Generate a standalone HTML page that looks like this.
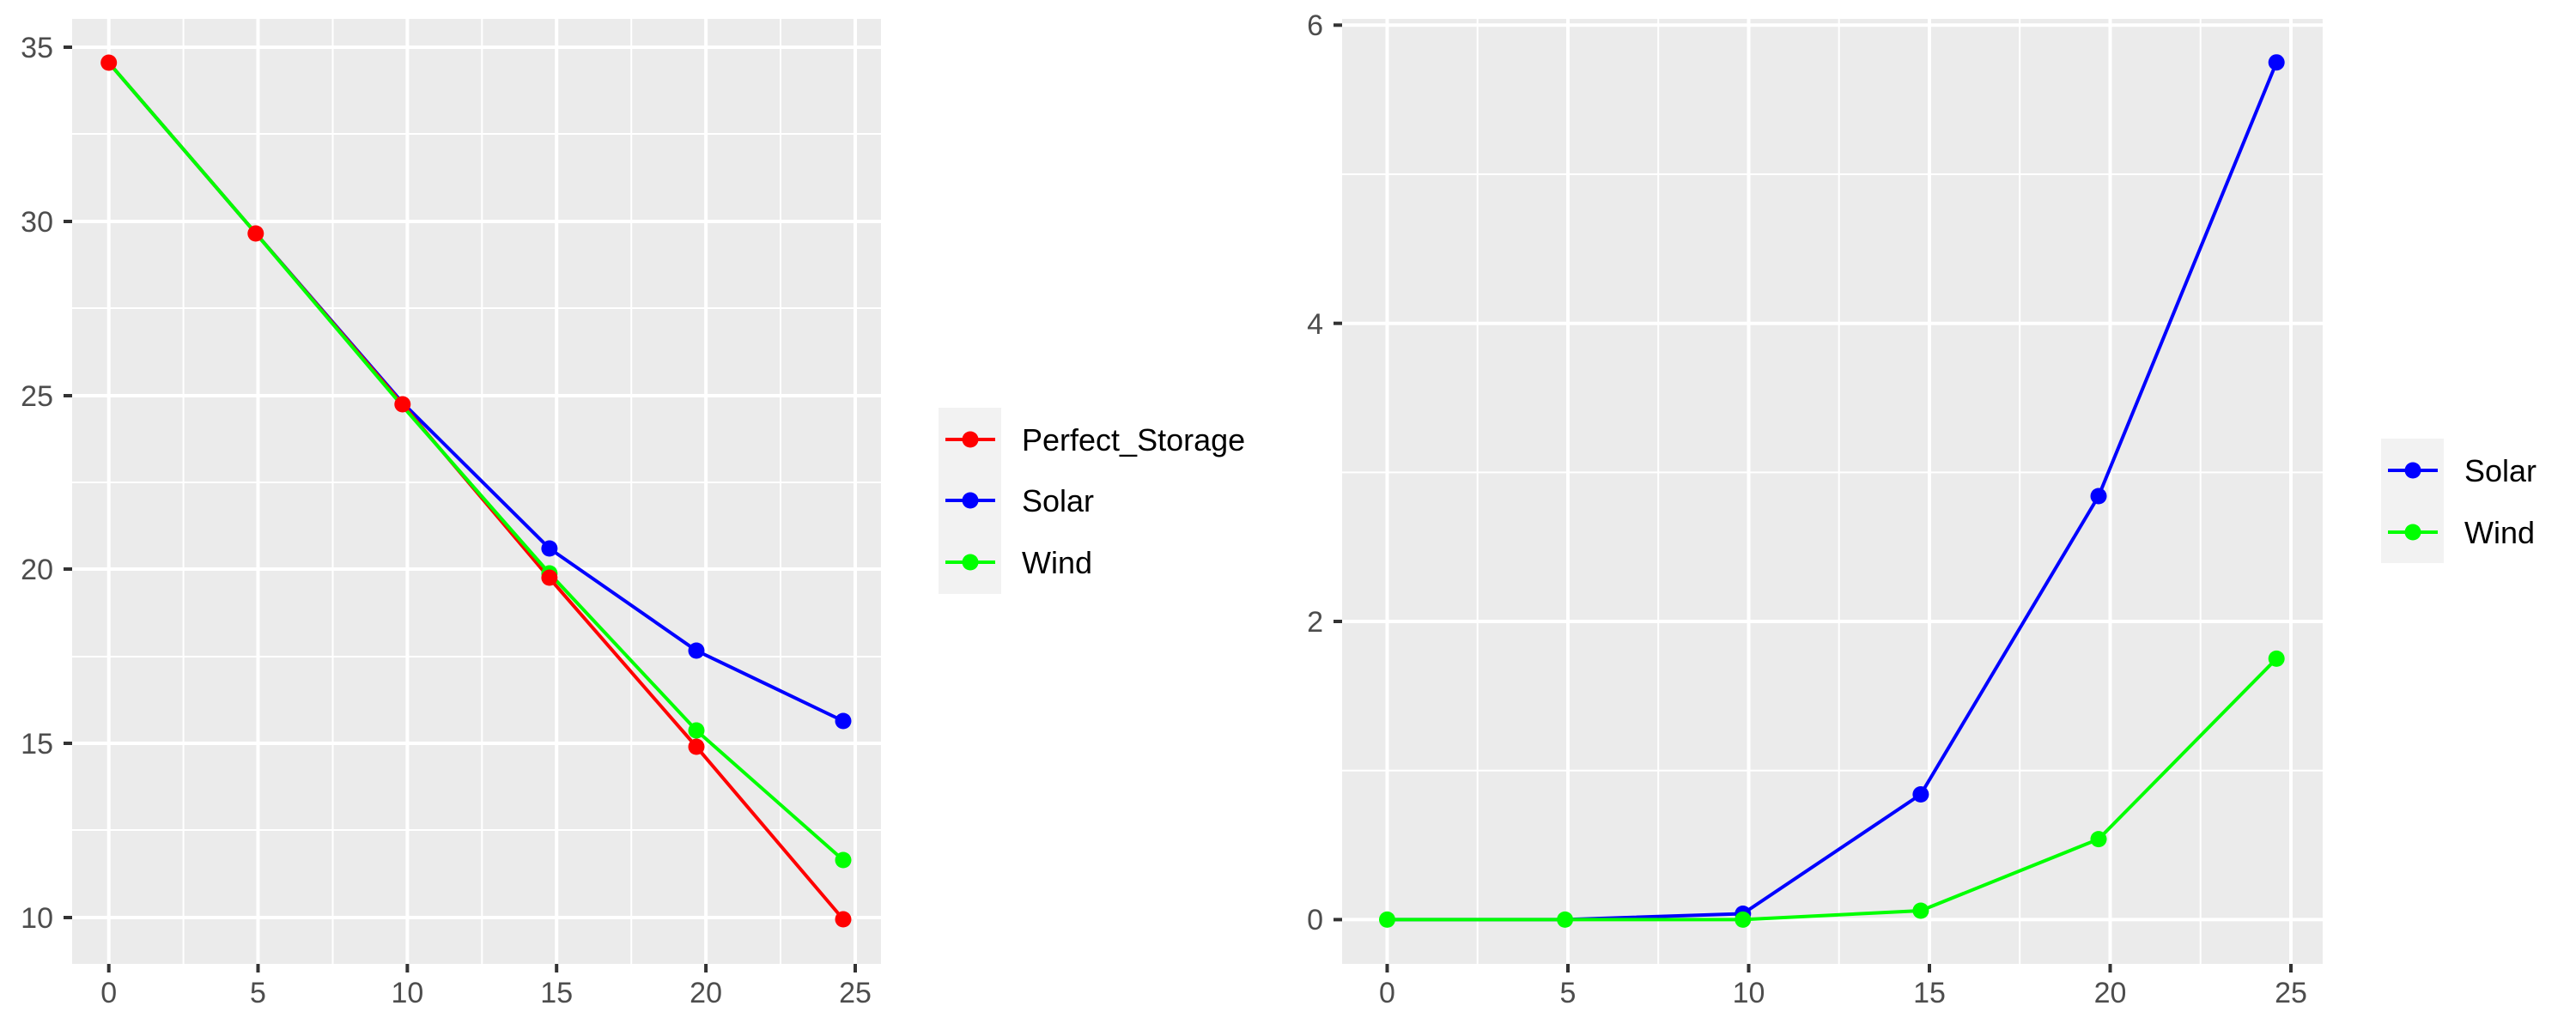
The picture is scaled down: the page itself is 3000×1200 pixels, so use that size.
<!DOCTYPE html>
<html><head><meta charset="utf-8"><style>
html,body{margin:0;padding:0;background:#fff;}
svg{display:block;}
text{font-family:"Liberation Sans",Arial,sans-serif;}
.ax{fill:#4d4d4d;font-size:34px;}
.lg{fill:#000;font-size:36px;}
</style></head><body>
<svg width="3000" height="1200" viewBox="0 0 3000 1200" xmlns="http://www.w3.org/2000/svg">
<rect width="3000" height="1200" fill="#fff"/>
<!-- LEFT PANEL -->
<rect x="84" y="22" width="942" height="1101" fill="#ebebeb"/>
<g stroke="#fff" stroke-width="2">
<line x1="84" x2="1026" y1="156" y2="156"/><line x1="84" x2="1026" y1="359" y2="359"/><line x1="84" x2="1026" y1="562" y2="562"/><line x1="84" x2="1026" y1="765" y2="765"/><line x1="84" x2="1026" y1="967" y2="967"/>
<line y1="22" y2="1123" x1="213.6" x2="213.6"/><line y1="22" y2="1123" x1="387.5" x2="387.5"/><line y1="22" y2="1123" x1="561.3" x2="561.3"/><line y1="22" y2="1123" x1="735.2" x2="735.2"/><line y1="22" y2="1123" x1="909" x2="909"/>
</g>
<g stroke="#fff" stroke-width="4">
<line x1="84" x2="1026" y1="55" y2="55"/><line x1="84" x2="1026" y1="258" y2="258"/><line x1="84" x2="1026" y1="461" y2="461"/><line x1="84" x2="1026" y1="663" y2="663"/><line x1="84" x2="1026" y1="866" y2="866"/><line x1="84" x2="1026" y1="1069" y2="1069"/>
<line y1="22" y2="1123" x1="126.7" x2="126.7"/><line y1="22" y2="1123" x1="300.5" x2="300.5"/><line y1="22" y2="1123" x1="474.4" x2="474.4"/><line y1="22" y2="1123" x1="648.2" x2="648.2"/><line y1="22" y2="1123" x1="822.1" x2="822.1"/><line y1="22" y2="1123" x1="996" x2="996"/>
</g>
<g stroke="#333" stroke-width="4">
<line x1="74" x2="84" y1="55" y2="55"/><line x1="74" x2="84" y1="258" y2="258"/><line x1="74" x2="84" y1="461" y2="461"/><line x1="74" x2="84" y1="663" y2="663"/><line x1="74" x2="84" y1="866" y2="866"/><line x1="74" x2="84" y1="1069" y2="1069"/>
<line y1="1123" y2="1133" x1="126.7" x2="126.7"/><line y1="1123" y2="1133" x1="300.5" x2="300.5"/><line y1="1123" y2="1133" x1="474.4" x2="474.4"/><line y1="1123" y2="1133" x1="648.2" x2="648.2"/><line y1="1123" y2="1133" x1="822.1" x2="822.1"/><line y1="1123" y2="1133" x1="996" x2="996"/>
</g>
<g class="ax" text-anchor="end">
<text x="62" y="67">35</text><text x="62" y="270">30</text><text x="62" y="473">25</text><text x="62" y="675">20</text><text x="62" y="878">15</text><text x="62" y="1081">10</text>
</g>
<g class="ax" text-anchor="middle">
<text x="126.7" y="1168">0</text><text x="300.5" y="1168">5</text><text x="474.4" y="1168">10</text><text x="648.2" y="1168">15</text><text x="822.1" y="1168">20</text><text x="996" y="1168">25</text>
</g>
<polyline fill="none" stroke="#0000ff" stroke-width="4" points="126.7,73 297.8,271.7 468.8,469.2 639.9,639 811,758 982,840"/>
<polyline fill="none" stroke="#ff0000" stroke-width="4" points="126.7,73 297.8,271.7 468.8,471.2 639.9,673.6 811,870 982,1071"/>
<polyline fill="none" stroke="#00ff00" stroke-width="4" points="126.7,73 297.8,271.7 468.8,473.2 639.9,668 811,851 982,1002"/>
<g fill="#0000ff"><circle cx="639.9" cy="639" r="9.5"/><circle cx="811" cy="758" r="9.5"/><circle cx="982" cy="840" r="9.5"/></g>
<g fill="#00ff00"><circle cx="639.9" cy="668" r="9.5"/><circle cx="811" cy="851" r="9.5"/><circle cx="982" cy="1002" r="9.5"/></g>
<g fill="#ff0000"><circle cx="126.7" cy="73" r="9.5"/><circle cx="297.8" cy="272" r="9.5"/><circle cx="468.8" cy="471" r="9.5"/><circle cx="639.9" cy="673" r="9.5"/><circle cx="811" cy="870" r="9.5"/><circle cx="982" cy="1071" r="9.5"/></g>
<!-- left legend -->
<rect x="1093" y="475" width="73" height="217" fill="#f2f2f2"/>
<line x1="1101" x2="1159" y1="512" y2="512" stroke="#ff0000" stroke-width="4"/><circle cx="1130" cy="512" r="9.5" fill="#ff0000"/>
<line x1="1101" x2="1159" y1="583" y2="583" stroke="#0000ff" stroke-width="4"/><circle cx="1130" cy="583" r="9.5" fill="#0000ff"/>
<line x1="1101" x2="1159" y1="655" y2="655" stroke="#00ff00" stroke-width="4"/><circle cx="1130" cy="655" r="9.5" fill="#00ff00"/>
<text class="lg" x="1190" y="525">Perfect_Storage</text>
<text class="lg" x="1190" y="596">Solar</text>
<text class="lg" x="1190" y="668">Wind</text>

<!-- RIGHT PANEL -->
<rect x="1563" y="22" width="1142" height="1101" fill="#ebebeb"/>
<g stroke="#fff" stroke-width="2">
<line x1="1563" x2="2705" y1="203" y2="203"/><line x1="1563" x2="2705" y1="550.4" y2="550.4"/><line x1="1563" x2="2705" y1="897.7" y2="897.7"/>
<line y1="22" y2="1123" x1="1720.7" x2="1720.7"/><line y1="22" y2="1123" x1="1931.2" x2="1931.2"/><line y1="22" y2="1123" x1="2141.7" x2="2141.7"/><line y1="22" y2="1123" x1="2352.2" x2="2352.2"/><line y1="22" y2="1123" x1="2562.7" x2="2562.7"/>
</g>
<g stroke="#fff" stroke-width="4">
<line x1="1563" x2="2705" y1="29.3" y2="29.3"/><line x1="1563" x2="2705" y1="376.7" y2="376.7"/><line x1="1563" x2="2705" y1="724" y2="724"/><line x1="1563" x2="2705" y1="1071.4" y2="1071.4"/>
<line y1="22" y2="1123" x1="1615.5" x2="1615.5"/><line y1="22" y2="1123" x1="1826" x2="1826"/><line y1="22" y2="1123" x1="2036.5" x2="2036.5"/><line y1="22" y2="1123" x1="2247" x2="2247"/><line y1="22" y2="1123" x1="2457.5" x2="2457.5"/><line y1="22" y2="1123" x1="2668" x2="2668"/>
</g>
<g stroke="#333" stroke-width="4">
<line x1="1553" x2="1563" y1="29.3" y2="29.3"/><line x1="1553" x2="1563" y1="376.7" y2="376.7"/><line x1="1553" x2="1563" y1="724" y2="724"/><line x1="1553" x2="1563" y1="1071.4" y2="1071.4"/>
<line y1="1123" y2="1133" x1="1615.5" x2="1615.5"/><line y1="1123" y2="1133" x1="1826" x2="1826"/><line y1="1123" y2="1133" x1="2036.5" x2="2036.5"/><line y1="1123" y2="1133" x1="2247" x2="2247"/><line y1="1123" y2="1133" x1="2457.5" x2="2457.5"/><line y1="1123" y2="1133" x1="2668" x2="2668"/>
</g>
<g class="ax" text-anchor="end">
<text x="1541" y="41">6</text><text x="1541" y="389">4</text><text x="1541" y="736">2</text><text x="1541" y="1083">0</text>
</g>
<g class="ax" text-anchor="middle">
<text x="1615.5" y="1168">0</text><text x="1826" y="1168">5</text><text x="2036.5" y="1168">10</text><text x="2247" y="1168">15</text><text x="2457.5" y="1168">20</text><text x="2668" y="1168">25</text>
</g>
<polyline fill="none" stroke="#0000ff" stroke-width="4" points="1615.5,1071.4 1822.6,1071.4 2029.8,1064.5 2236.9,925.5 2444,578 2651.2,72.7"/>
<polyline fill="none" stroke="#00ff00" stroke-width="4" points="1615.5,1071.4 1822.6,1071.4 2029.8,1071.4 2236.9,1061 2444,977.6 2651.2,767.4"/>
<g fill="#0000ff"><circle cx="2029.8" cy="1064.5" r="9.5"/><circle cx="2236.9" cy="925.5" r="9.5"/><circle cx="2444" cy="578" r="9.5"/><circle cx="2651.2" cy="72.7" r="9.5"/></g>
<g fill="#00ff00"><circle cx="1615.5" cy="1071.4" r="9.5"/><circle cx="1822.6" cy="1071.4" r="9.5"/><circle cx="2029.8" cy="1071.4" r="9.5"/><circle cx="2236.9" cy="1061" r="9.5"/><circle cx="2444" cy="977.6" r="9.5"/><circle cx="2651.2" cy="767.4" r="9.5"/></g>
<!-- right legend -->
<rect x="2773" y="511" width="73" height="145" fill="#f2f2f2"/>
<line x1="2781" x2="2839" y1="548" y2="548" stroke="#0000ff" stroke-width="4"/><circle cx="2810" cy="548" r="9.5" fill="#0000ff"/>
<line x1="2781" x2="2839" y1="620" y2="620" stroke="#00ff00" stroke-width="4"/><circle cx="2810" cy="620" r="9.5" fill="#00ff00"/>
<text class="lg" x="2870" y="561">Solar</text>
<text class="lg" x="2870" y="633">Wind</text>
</svg>
</body></html>
